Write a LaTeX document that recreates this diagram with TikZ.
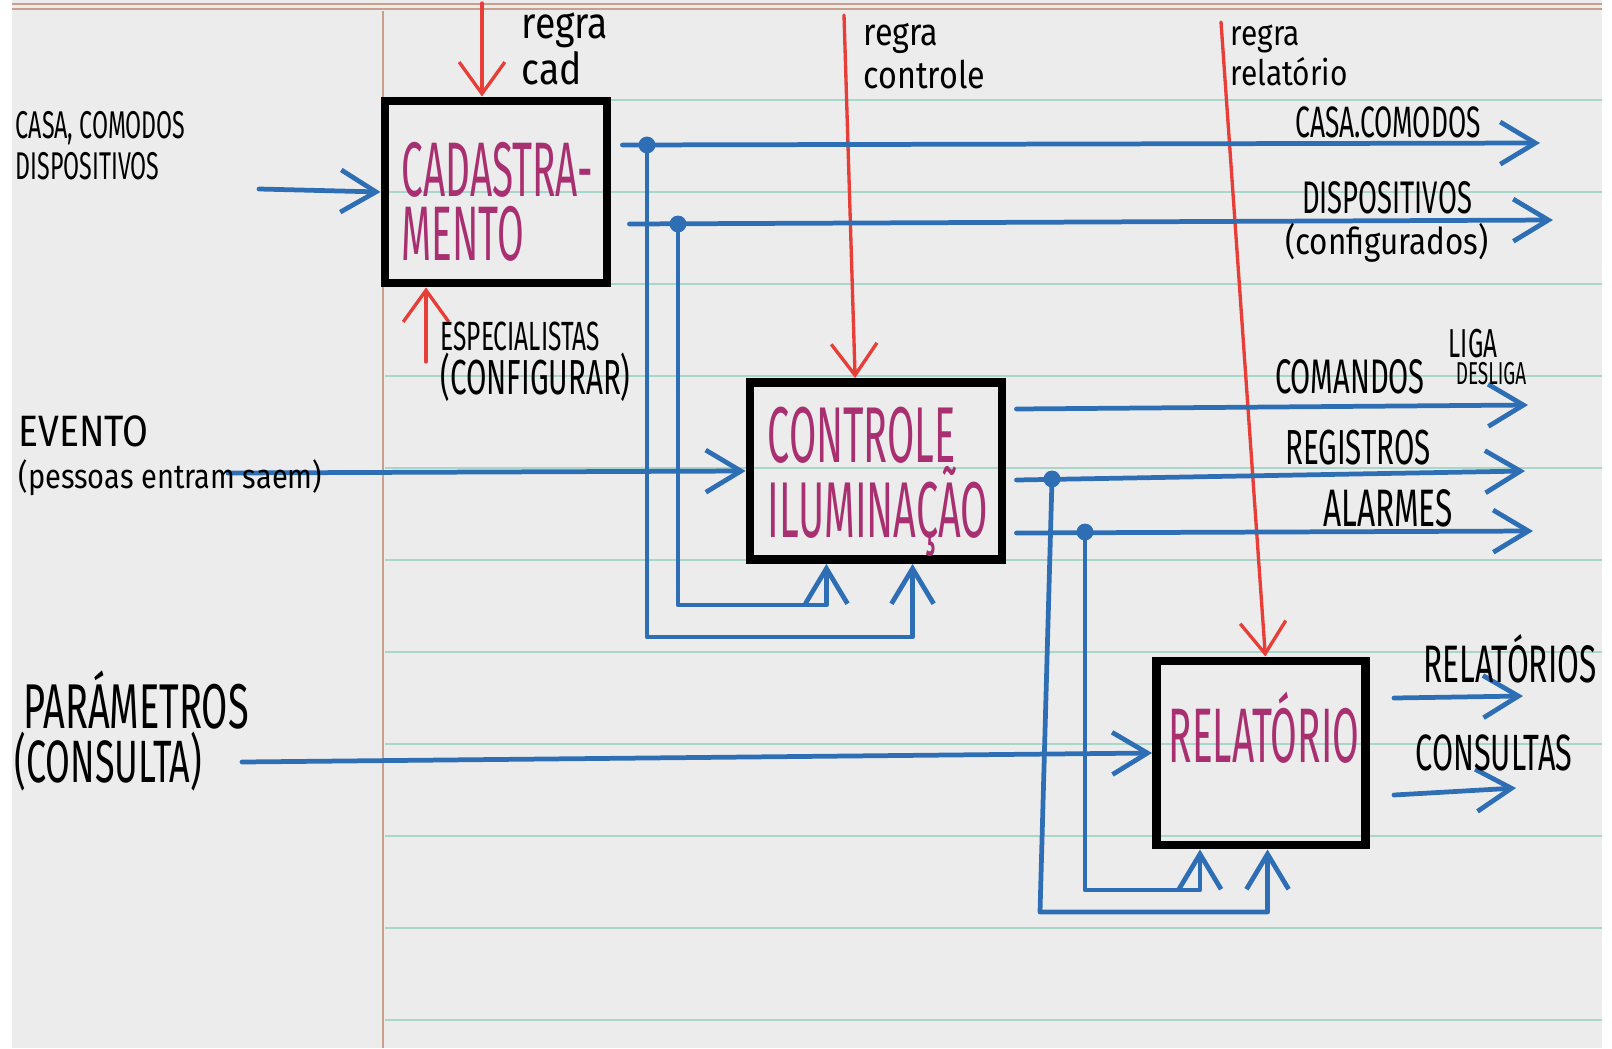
\documentclass[tikz,border=0pt]{standalone}
\usepackage{fontspec}
\usepackage{tikz}
\usetikzlibrary{arrows.meta,positioning,calc}
\newfontfamily\penfont{Fira Sans}[FakeStretch=0.6]
\newfontfamily\boxfont{Fira Sans}[FakeStretch=0.5]
\newfontfamily\lowfont{Fira Sans}[FakeStretch=0.85]
\newcommand{\capsize}[2]{\penfont\fontsize{#1}{#2}\selectfont}
\newcommand{\boxsize}[2]{\boxfont\fontsize{#1}{#2}\selectfont}
\newcommand{\lowsize}[2]{\lowfont\fontsize{#1}{#2}\selectfont}
\definecolor{paper}{RGB}{236,236,236}
\definecolor{rulecyan}{RGB}{168,214,203}
\definecolor{marginred}{RGB}{200,160,140}
\definecolor{penblue}{RGB}{46,110,180}
\definecolor{penred}{RGB}{232,62,56}
\definecolor{penpink}{RGB}{168,48,112}

\begin{document}
\begin{tikzpicture}[x=0.01cm,y=-0.01cm,
    func/.style={draw=black,line width=2.5pt,inner sep=0pt},
    functxt/.style={inner sep=0pt,text=penpink,align=left,anchor=west},
    lbl/.style={inner sep=0pt,text=black},
    flow/.style={draw=penblue,line width=1.35pt,line cap=round,line join=round,
      -{Straight Barb[length=10pt,width=12pt]}},
    ctl/.style={draw=penred,line width=0.95pt,line cap=round,line join=round,
      -{Straight Barb[length=9pt,width=13pt]}},
    joint/.style={fill=penblue}]

    % Paper
    \useasboundingbox (0,0) rectangle (1612,1048);
    \fill[white] (0,0) rectangle (1612,1048);
    \fill[paper] (12,0) rectangle (1602,1048);
    \draw[marginred,line width=0.5pt] (12,4) -- (1602,4) (12,9) -- (1602,9);
    \foreach \y in {100,192,...,1020}
      \draw[rulecyan,line width=0.8pt] (385,\y) -- (1602,\y);
    \draw[marginred,line width=0.7pt] (383,11) -- (383,1048);

    % Activities
    \node[func,minimum width=2.22cm,minimum height=1.82cm] (cad) at (496,192) {};
    \node[func,minimum width=2.52cm,minimum height=1.77cm] (ctrl) at (876,471) {};
    \node[func,minimum width=2.09cm,minimum height=1.84cm] (rel) at (1261,753) {};
    \node[functxt,font=\boxsize{22}{18.2}] (cad-txt) at (401,202) {CADASTRA-\\MENTO};
    \node[functxt,font=\boxsize{22.5}{21.3}] (ctrl-txt) at (767,482) {CONTROLE\\ILUMINAÇÃO};
    \node[functxt,font=\boxsize{22}{24}] (rel-txt) at (1168,728) {RELATÓRIO};

    % Controls and mechanism
    \coordinate (r-cad) at (482,3);
    \coordinate (r-esp) at (426,362);
    \coordinate (r-ctrl) at (844,15);
    \coordinate (r-rel) at (1221,22);
    \draw[ctl] (r-cad) -- (r-cad |- cad.north);
    \draw[ctl] (r-esp) -- (r-esp |- cad.south);
    \draw[ctl] (r-ctrl) -- ($(ctrl.north west)!0.42!(ctrl.north east)$);
    \draw[ctl] (r-rel) -- ($(rel.north west)!0.52!(rel.north east)$);
    \node[lbl,anchor=west,align=left,font=\lowsize{12.5}{9.7}] (reg-cad) at (521,49) {regra\\cad};
    \node[lbl,anchor=west,align=left,font=\lowsize{10.8}{12.2}] (reg-ctrl) at (863,56) {regra\\controle};
    \node[lbl,anchor=west,align=left,font=\lowsize{10}{11.4}] (reg-rel) at (1230,55) {regra\\relatório};
    \node[lbl,anchor=west,align=left,font=\capsize{14}{12.5}] (esp) at (440,362) {{\fontsize{11.6}{12.5}\selectfont ESPECIALISTAS}\\(CONFIGURAR)};

    % Inputs
    \coordinate (in-cad) at (259,189);
    \coordinate (in-ev) at (228,473);
    \coordinate (in-par) at (242,762);
    \draw[flow] (in-cad) -- (cad.west);
    \draw[flow] (in-ev) -- (ctrl.west);
    \draw[flow] (in-par) -- (rel.west);
    \node[lbl,anchor=west,align=left,font=\capsize{11}{11.7}] (casa-in) at (15,146) {CASA, COMODOS\\DISPOSITIVOS};
    \node[lbl,anchor=west,align=left,font=\lowsize{12.5}{12}] (evento) at (18,456) {EVENTO\\{\lowsize{9.7}{12}(pessoas entram saem)}};
    \node[lbl,anchor=west,align=left,font=\capsize{18}{15.2}] (param) at (14,731) {\hspace{2.5pt}PARÁMETROS\\{\capsize{17}{15.2}(CONSULTA)}};

    % Cadastramento outputs
    \coordinate (j1) at (647,145);
    \coordinate (j2) at (678,224);
    \coordinate (o-casa) at (1540,143);
    \coordinate (o-disp) at (1553,220);
    \draw[flow] ($(cad.east |- j1)+(11,0)$) -- (o-casa);
    \draw[flow] ($(cad.east |- j2)+(18,0)$) -- (o-disp);
    \draw[flow] (j1) -- ++(0,492) -| ($(ctrl.south west)!0.64!(ctrl.south east)$);
    \draw[flow] (j2) -- ++(0,381) -| ($(ctrl.south west)!0.31!(ctrl.south east)$);
    \fill[joint] (j1) circle (2.4pt) (j2) circle (2.4pt);
    \node[lbl,font=\capsize{12.5}{14}] (casa-out) at (1388,122) {CASA.COMODOS};
    \node[lbl,align=center,font=\capsize{13}{11.7}] (disp-out) at (1387,222) {DISPOSITIVOS\\{\lowsize{10.5}{11.7}(configurados)}};

    % Controle outputs
    \coordinate (j3) at (1052,479);
    \coordinate (j4) at (1085,532);
    \coordinate (o-cmd) at (1528,405);
    \coordinate (o-reg) at (1525,471);
    \coordinate (o-alm) at (1533,531);
    \draw[flow] ($(ctrl.east |- o-cmd)+(10,4)$) -- (o-cmd);
    \draw[flow] ($(ctrl.east |- j3)+(10,1)$) -- (o-reg);
    \draw[flow] ($(ctrl.east |- j4)+(10,1)$) -- (o-alm);
    \draw[flow] (j3) -- ++(-12,433) -| ($(rel.south west)!0.53!(rel.south east)$);
    \draw[flow] (j4) -- ++(0,358) -| ($(rel.south west)!0.22!(rel.south east)$);
    \fill[joint] (j3) circle (2.4pt) (j4) circle (2.4pt);
    \node[lbl,font=\capsize{13.8}{14}] (cmd) at (1350,377) {COMANDOS};
    \node[lbl,font=\capsize{11.5}{12}] (liga) at (1473,344) {LIGA};
    \node[lbl,font=\capsize{9}{9}] (desliga) at (1491,374) {DESLIGA};
    \node[lbl,font=\capsize{14}{14}] (reg) at (1358,448) {REGISTROS};
    \node[lbl,font=\capsize{15}{15}] (alm) at (1388,508) {ALARMES};

    % Relatorio outputs
    \coordinate (o-rels) at (1523,696);
    \coordinate (o-cons) at (1516,788);
    \draw[flow] ($(rel.east |- o-rels)+(24,2)$) -- (o-rels);
    \draw[flow] ($(rel.east |- o-cons)+(24,7)$) -- (o-cons);
    \node[lbl,font=\capsize{15}{15}] (rels) at (1510,659) {RELATÓRIOS};
    \node[lbl,font=\capsize{14.5}{14}] (cons) at (1494,753) {CONSULTAS};
  \end{tikzpicture}
\end{document}
